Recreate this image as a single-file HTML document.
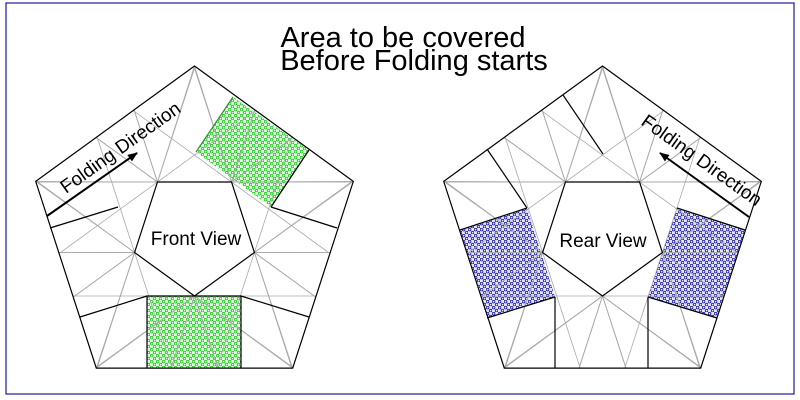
<!DOCTYPE html>
<html><head><meta charset="utf-8"><style>
html,body{margin:0;padding:0;background:#fff;overflow:hidden;width:800px;height:400px;}
svg{display:block;position:absolute;left:0;top:0;font-family:"Liberation Sans",Arial,sans-serif;}
script{display:none;}
</style></head><body>
<svg id="s" width="800" height="400" viewBox="0 0 800 400" xmlns="http://www.w3.org/2000/svg">
<defs>
<pattern id="pg" width="6" height="6" patternUnits="userSpaceOnUse">
<rect width="6" height="6" fill="#e6fae6"/>
<circle cx="1.6" cy="1.6" r="1.3" fill="none" stroke="#22cc22" stroke-width="0.9"/>
<circle cx="4.6" cy="4.6" r="1.3" fill="none" stroke="#22cc22" stroke-width="0.9"/>
</pattern>
<pattern id="pb" width="6" height="6" patternUnits="userSpaceOnUse">
<rect width="6" height="6" fill="#e6e6f8"/>
<circle cx="1.6" cy="1.6" r="1.3" fill="none" stroke="#2222aa" stroke-width="0.9"/>
<circle cx="4.6" cy="4.6" r="1.3" fill="none" stroke="#2222aa" stroke-width="0.9"/>
</pattern>
<marker id="ah" markerWidth="10" markerHeight="8" refX="9" refY="4" orient="auto" markerUnits="userSpaceOnUse">
<path d="M0,0 L10,4 L0,8 z" fill="#000"/></marker>
</defs>
<rect x="6" y="3" width="788" height="391" fill="none" stroke="#1a1a99" stroke-width="1.2"/>
<text x="403" y="47" font-size="29" text-anchor="middle">Area to be covered</text>
<text x="414" y="70" font-size="29" text-anchor="middle">Before Folding starts</text>

<polygon points="147,296 241,296 241,368 147,368" fill="url(#pg)"/>
<polygon points="233,97 309,150 271,207 196,152" fill="url(#pg)"/>
<polygon points="460,230 527,208 555,297 487,318" fill="url(#pb)"/>
<polygon points="677,208 745,230 717,318 648,297" fill="url(#pb)"/>

<g id="gray1" stroke="#aaa" stroke-width="0.8" fill="none"></g>
<g id="gray2" stroke="#aaa" stroke-width="0.8" fill="none"></g>

<g stroke="#000" stroke-width="1.2">
<polygon id="o1" fill="none"/><polygon id="i1" fill="#fff"/>
<polygon id="o2" fill="none"/><polygon id="i2" fill="#fff"/>
</g>
<g stroke="#000" stroke-width="1.2" fill="none">
<polyline points="147,368 147,296 241,296 241,368"/>
<line x1="147" y1="296" x2="80" y2="317"/>
<line x1="241" y1="296" x2="309" y2="317"/>
<line x1="118" y1="207" x2="50" y2="228"/>
<line x1="271" y1="207" x2="337" y2="228"/>
<line x1="309" y1="150" x2="271" y2="207"/>
<line x1="233" y1="97" x2="196" y2="152" stroke="#3a8a3a"/>
<line x1="555" y1="297" x2="555" y2="368"/>
<line x1="648" y1="297" x2="648" y2="368"/>
<line x1="460" y1="230" x2="527" y2="208"/>
<line x1="555" y1="297" x2="487" y2="318"/>
<line x1="745" y1="230" x2="677" y2="208"/>
<line x1="648" y1="297" x2="717" y2="318"/>
<line x1="527" y1="208" x2="487" y2="149"/>
<line x1="563" y1="95" x2="603" y2="154"/>
</g>
<line x1="47" y1="216" x2="137" y2="153" stroke="#000" stroke-width="2" marker-end="url(#ah)"/>
<line x1="749" y1="217" x2="660" y2="153" stroke="#000" stroke-width="2" marker-end="url(#ah)"/>
<text font-size="19" transform="translate(66,194) rotate(-35.5)">Folding Direction</text>
<text font-size="19" transform="translate(640,124) rotate(35.5)">Folding Direction</text>
<text x="196" y="245" font-size="19" text-anchor="middle">Front View</text>
<text x="603" y="247" font-size="19" text-anchor="middle">Rear View</text>
</svg>
<script>
(function(){
var NS="http://www.w3.org/2000/svg";
function pt(cx,cy,r,a){a=a*Math.PI/180;return [cx+r*Math.cos(a),cy+r*Math.sin(a)];}
function build(cx,idx){
 var cy=233,R=167,r=63,O=[],I=[];
 for(var k=0;k<5;k++){O.push(pt(cx,cy,R,-90+72*k));I.push(pt(cx,cy,r,90+72*k));}
 var os=O.map(function(p){return p[0].toFixed(1)+","+p[1].toFixed(1)}).join(" ");
 document.getElementById("o"+idx).setAttribute("points",os);
 document.getElementById("i"+idx).setAttribute("points",I.map(function(p){return p[0].toFixed(1)+","+p[1].toFixed(1)}).join(" "));
 var g=document.getElementById("gray"+idx);
 function L(a,b){var l=document.createElementNS(NS,"line");l.setAttribute("x1",a[0].toFixed(2));l.setAttribute("y1",a[1].toFixed(2));l.setAttribute("x2",b[0].toFixed(2));l.setAttribute("y2",b[1].toFixed(2));g.appendChild(l);}
 function clipLine(p,d){
  // p point inside, d direction; clip to convex pentagon O
  var t0=-1e9,t1=1e9;
  for(var e=0;e<5;e++){
   var A=O[e],B=O[(e+1)%5];
   var nx=B[1]-A[1],ny=-(B[0]-A[0]); // outward normal for clockwise in screen coords
   var num=nx*(A[0]-p[0])+ny*(A[1]-p[1]);
   var den=nx*d[0]+ny*d[1];
   if(Math.abs(den)<1e-9) continue;
   var t=num/den;
   if(den>0){ if(t<t1)t1=t; } else { if(t>t0)t0=t; }
  }
  if(t1>t0) L([p[0]+d[0]*t0,p[1]+d[1]*t0],[p[0]+d[0]*t1,p[1]+d[1]*t1]);
 }
 for(var k=0;k<5;k++){
  var a=90+72*k, A=pt(cx,cy,R,a-36), B=pt(cx,cy,R,a+36), v=I[k];
  L(v,A);L(v,B);
  [0.38,0.62].forEach(function(t){L(v,[A[0]+(B[0]-A[0])*t,A[1]+(B[1]-A[1])*t]);});
 }
 for(var e=0;e<5;e++){
  var P=O[e],Q=O[(e+1)%5],dx=Q[0]-P[0],dy=Q[1]-P[1],n=Math.hypot(dx,dy);dx/=n;dy/=n;
  for(var k=0;k<5;k++){clipLine(I[k],[dx,dy]);}
 }
}
build(194.5,1);build(602.5,2);
})();
</script>
</body></html>
